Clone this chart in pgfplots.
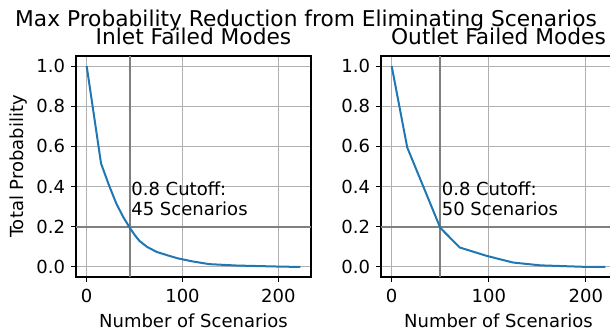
\documentclass[border=0pt]{standalone}
\usepackage{fontspec}
\setmainfont{DejaVu Sans}
\usepackage{pgfplots}
\pgfplotsset{compat=1.18}
\definecolor{mplblue}{HTML}{1F77B4}
\definecolor{gridgray}{HTML}{B0B0B0}
\definecolor{cutgray}{HTML}{808080}
\pgfplotsset{
  myax/.style={
    scale only axis, width=176.25pt, height=165.75pt,
    ymin=-0.05, ymax=1.05,
    ytick={0,0.2,0.4,0.6,0.8,1.0},
    yticklabel style={xshift=-1.2pt, /pgf/number format/.cd, fixed, fixed zerofill, precision=1},
    xtick={0,100,200},
    grid=major, major grid style={gridgray, line width=0.8pt},
    axis line style={black, line width=0.8pt},
    tick align=outside, tick pos=left, major tick length=3.5pt,
    every tick/.style={black, line width=0.8pt},
    tick label style={font=\fontsize{13.5}{15}\selectfont},
    xticklabel style={anchor=base, yshift=-15.8pt},
    label style={font=\fontsize{13.5}{15}\selectfont},
    title style={font=\fontsize{16.3}{18}\selectfont, at={(0.5,1)}, anchor=base, yshift=2.8pt},
    /pgf/number format/assume math mode=true,
    xlabel={Number of Scenarios},
    xlabel style={at={(axis description cs:0.5,-0.2275)}, anchor=base},
    ylabel style={at={(axis description cs:-0.2255,0.5)}, anchor=base, rotate=0},
  },
  cut/.style={cutgray, line width=1.8pt, forget plot},
  curve/.style={mplblue, line width=1.5pt, mark=none},
}
\begin{document}
\begin{tikzpicture}
\begin{axis}[myax, xmin=-11.15, xmax=234.15, title={Inlet Failed Modes}, ylabel={Total Probability}]
\addplot[cut] coordinates {(45,-0.05) (45,1.05)};
\addplot[cut] coordinates {(-11.15,0.2) (234.15,0.2)};
\addplot[curve] coordinates {
(0,1.0) (15,0.515) (23,0.41) (31,0.315) (38,0.25) (45,0.195) (50,0.16) (55,0.13)
(63,0.10) (73,0.075) (85,0.057) (95,0.043) (110,0.028) (128,0.014) (157,0.007)
(200,0.002) (223,0.0)};
\node[anchor=south west, align=left, inner sep=0pt, xshift=1pt,
  font=\fontsize{13.5}{15}\selectfont] at (axis cs:45,0.252) {0.8 Cutoff:\\45 Scenarios};
\end{axis}
\begin{axis}[myax, xshift=228.75pt, xmin=-11, xmax=231, title={Outlet Failed Modes}]
\addplot[cut] coordinates {(50,-0.05) (50,1.05)};
\addplot[cut] coordinates {(-11,0.2) (231,0.2)};
\addplot[curve] coordinates {
(0,1.0) (16,0.595) (50,0.195) (70,0.097) (98,0.055) (125,0.022) (153,0.008)
(196,0.001) (220,0.0)};
\node[anchor=south west, align=left, inner sep=0pt, xshift=1pt,
  font=\fontsize{13.5}{15}\selectfont] at (axis cs:50,0.252) {0.8 Cutoff:\\50 Scenarios};
\end{axis}
\node[anchor=base, font=\fontsize{16.3}{18}\selectfont] at (172.5pt,187.7pt) {Max Probability Reduction from Eliminating Scenarios};
\pgfresetboundingbox
\useasboundingbox (-57pt,-42pt) rectangle (400.5pt,207.75pt);
\end{tikzpicture}
\end{document}
